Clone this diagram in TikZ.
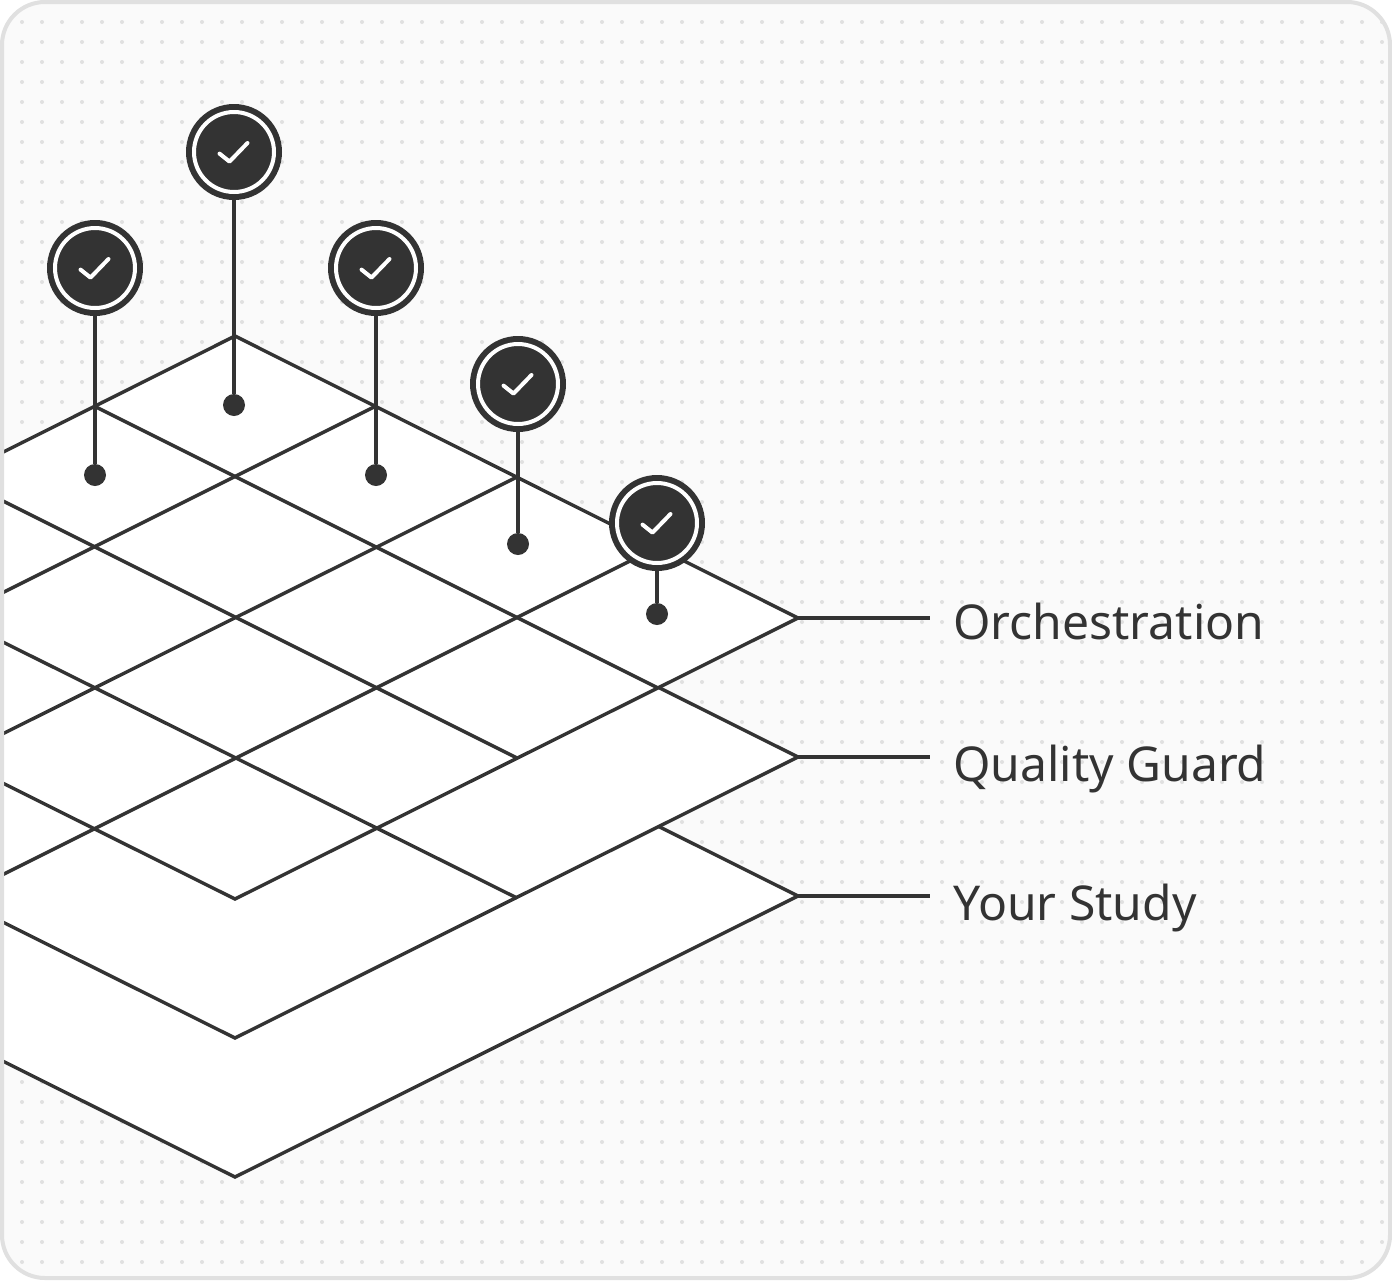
\documentclass[tikz,border=0pt]{standalone}
\usepackage{fontspec}
\setmainfont{Noto Sans}
\definecolor{ink}{HTML}{333333}
\definecolor{cardbg}{HTML}{FAFAFA}
\definecolor{cardline}{HTML}{E0E0E0}
\tikzset{
	layer/.style = {draw = ink, fill = white, line width = 1.7pt, line join = miter},
	gridline/.style = {draw = ink, line width = 1.7pt},
	leader/.style = {draw = ink, line width = 1.7pt},
	stem/.style = {draw = ink, line width = 2pt},
	pinhead/.style = {circle, fill = ink, inner sep = 0pt, minimum size = 48pt,
		path picture = {
			\begin{scope}[shift = {(path picture bounding box.center)}]
				\draw[white, line width = 2pt] (0,0) circle (40);
				\draw[white, line width = 2pt, line cap = round, line join = round] (-14.5,1.6) -- (-4.5,9.6) -- (13.5,-9);
			\end{scope}
		}},
	pindot/.style = {circle, fill = ink, inner sep = 0pt, minimum size = 11pt},
	tag/.style = {anchor = base west, inner sep = 0pt, text = ink, font = \fontsize{24pt}{28pt}\selectfont}
}
\begin{document}
\begin{tikzpicture}[x = 0.5pt, y = -0.5pt]
	\useasboundingbox (0,0) rectangle (1392,1280);
	\fill[cardbg, rounded corners = 22.5pt] (0,0) rectangle (1392,1280);
	\begin{scope}
		\clip[rounded corners = 20.5pt] (4,4) rectangle (1388,1276);
		\foreach \i in {0,...,68} {
			\foreach \j in {0,...,62} {
				\fill[cardline] (22+20*\i,22+20*\j) circle (2);
			}
		}
		% layers, back to front
		\draw[layer] (235,615) -- (798,896) -- (235,1177) -- (-328,896) -- cycle;
		\draw[layer] (235,476) -- (798,757) -- (235,1038) -- (-328,757) -- cycle;
		\draw[gridline] (376.5,828) -- (517,898);
		\draw[layer] (235,336) -- (798,618) -- (235,899) -- (-328,618) -- cycle;
		% top grid
		\draw[gridline] (376,406) -- (-328,758);
		\draw[gridline] (517,477) -- (-328,899);
		\draw[gridline] (658,547) -- (-100,926);
		\draw[gridline] (94,406) -- (658,688);
		\draw[gridline] (-47,476) -- (517,758);
		\draw[gridline] (-188,547) -- (376.5,828);
	\end{scope}
	\draw[cardline, line width = 2pt, rounded corners = 21.5pt] (2,2) rectangle (1390,1278);

	\node[pinhead] (pina) at (234,152) {};
	\node[pinhead] (pinb) at (95,268) {};
	\node[pinhead] (pinc) at (376,268) {};
	\node[pinhead] (pind) at (518,384) {};
	\node[pinhead] (pine) at (657,523) {};
	\node[pindot] (dota) at (234,405) {};
	\node[pindot] (dotb) at (95,475) {};
	\node[pindot] (dotc) at (376,475) {};
	\node[pindot] (dotd) at (518,544) {};
	\node[pindot] (dote) at (657,614) {};
	\draw[stem] (pina) -- (dota);
	\draw[stem] (pinb) -- (dotb);
	\draw[stem] (pinc) -- (dotc);
	\draw[stem] (pind) -- (dotd);
	\draw[stem] (pine) -- (dote);

	\coordinate (cornera) at (798,618);
	\coordinate (cornerb) at (798,757);
	\coordinate (cornerc) at (798,896);
	\coordinate (enda) at (930,618);
	\coordinate (endb) at (930,757);
	\coordinate (endc) at (930,896);
	\draw[leader] (cornera) -- (enda);
	\draw[leader] (cornerb) -- (endb);
	\draw[leader] (cornerc) -- (endc);
	\node[tag] (orch) at (953,639) {Orchestration};
	\node[tag] (guard) at (953,781) {Quality Guard};
	\node[tag] (study) at (953,920) {Your Study};
\end{tikzpicture}
\end{document}
